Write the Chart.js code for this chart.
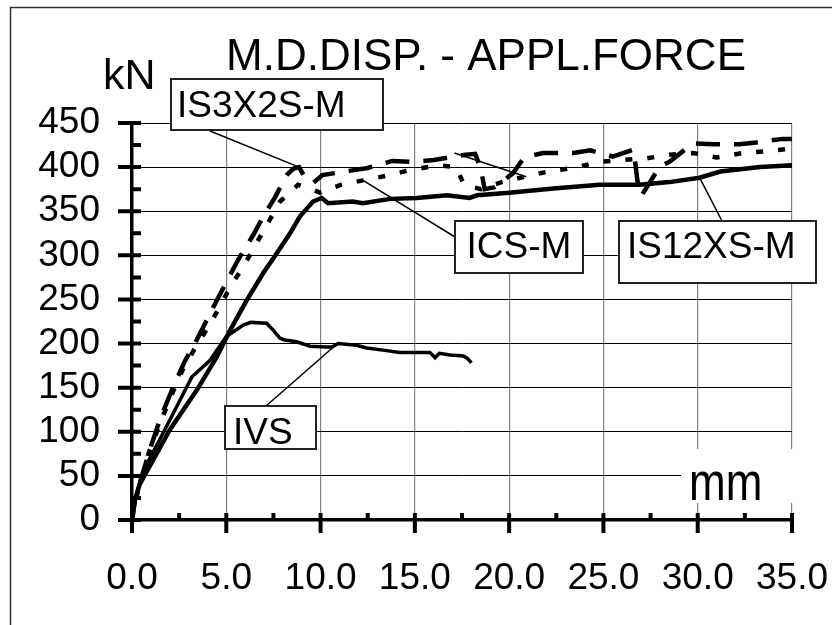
<!DOCTYPE html>
<html>
<head>
<meta charset="utf-8">
<script src="https://cdn.jsdelivr.net/npm/chart.js@4"></script>
<style>
  html, body { margin: 0; padding: 0; background: #fff; }
  #chart { display: block; }
</style>
</head>
<body>
<canvas id="chart" width="832" height="625"></canvas>
<script>
'use strict';

// curve data: displacement (mm) and applied force (kN)
const ivsX = [0, 0.15, 0.4, 0.65, 1.2, 2.19, 3.17, 4.14, 5.0, 5.9, 6.3, 7.14, 7.5, 7.85, 8.1, 8.73, 9.44, 10.3, 10.6, 10.94, 11.9, 12.45, 13.5, 14.2, 14.9, 15.8, 16.07, 16.3, 16.86, 17.57, 17.8, 18.0];
const ivsY = [0, 22, 42, 58, 80, 121, 162, 181, 208, 221, 224, 223, 215, 206, 204, 202, 197, 196, 196, 200, 198, 195, 192, 190, 190, 190, 184, 189, 187, 186, 183, 178];

const is12X = [0, 0.15, 0.4, 0.7, 1.3, 2.0, 2.7, 3.43, 4.5, 5.2, 6.08, 6.96, 7.67, 8.38, 8.9, 9.6, 10.06, 10.4, 11.7, 12.25, 13.7, 15.1, 16.7, 17.9, 18.3, 20.0, 22.5, 24.8, 26.9, 28.5, 30.1, 31.2, 33.3, 35];
const is12Y = [0, 22, 40, 52, 75, 102, 124, 147, 185, 215, 249, 280, 302, 325, 344, 361, 365, 359, 361, 359, 364, 365, 368, 365, 368, 371, 376, 380, 380, 383, 388, 395, 400, 402];

const icsX = [0, 0.15, 0.5, 0.87, 1.5, 2.1, 2.72, 3.43, 3.96, 4.67, 5.2, 5.9, 6.61, 7.14, 7.85, 8.4, 8.8, 9.4, 9.97, 11.1, 12.25, 13.7, 14.6, 16.2, 17.2, 17.6, 18.5, 19.6, 20.8, 22.3, 23.4, 24.8, 26, 27.3, 28.5, 29.75, 31, 32.4, 33.7, 35];
const icsY = [0, 20, 45, 75, 110, 142, 172, 198, 216, 242, 264, 287, 314, 334, 361, 372, 380, 376, 371, 380, 385, 391, 396, 402, 400, 380, 375, 383, 389, 396, 399, 406, 408, 410, 414, 416, 411, 416, 418, 421];

const is3X = [0, 0.15, 0.5, 0.95, 1.5, 2.19, 2.8, 3.43, 4.5, 5.63, 6.43, 6.96, 7.59, 8.2, 8.55, 8.86, 9.2, 9.6, 10.1, 11.6, 12.5, 13.8, 14.9, 16.0, 17.7, 18.2, 18.5, 18.7, 19.2, 20.2, 20.8, 21.8, 23.4, 24.3, 25.5, 26.6, 26.8, 27.0, 28.0, 28.5, 29.75, 30.8, 32.2, 33.1, 34.5, 35];
const is3Y = [0, 22, 48, 80, 115, 151, 180, 204, 249, 295, 323, 344, 366, 391, 398, 400, 387, 382, 391, 396, 399, 407, 406, 408, 414, 415, 398, 375, 377, 393, 411, 416, 416, 419, 412, 420, 385, 367, 401, 406, 427, 426, 426, 428, 432, 432];

// axis ranges and ticks
const xMin = 0, xMax = 35, xStep = 5;
const yMin = 0, yMax = 450, yStep = 50;

// callout labels: text and the curve point the leader goes to
const calloutNames = ['IS3X2S-M', 'ICS-M', 'IS12XS-M', 'IVS'];
const calloutX = [8.86, 12.25, 30.1, 10.9];
const calloutY = [400, 385, 388, 200];

const FONT = '"Liberation Sans", Arial, sans-serif';

function pts(xs, ys){
  return xs.map((x, i) => ({x: x, y: ys[i]}));
}

// box geometry for the callouts (pixels)
const boxes = [
  {l: 171, t: 79, r: 383, b: 130, tx: 177, ty: 117, align: 'left', from: [210, 131]},
  {l: 455, t: 221, r: 583, b: 273, tx: 519, ty: 258, align: 'center', from: [455, 237]},
  {l: 619, t: 221, r: 816, b: 283, tx: 627, ty: 258, align: 'left', from: [722, 221]},
  {l: 225, t: 406, r: 316, b: 449, tx: 233, ty: 444, align: 'left', from: [266, 406]}
];

const decor = {
  id: 'decor',
  beforeDraw(chart){
    const ctx = chart.ctx;
    ctx.save();
    ctx.fillStyle = '#fff';
    ctx.fillRect(0, 0, chart.width, chart.height);
    ctx.strokeStyle = '#333';
    ctx.lineWidth = 1.5;
    ctx.strokeRect(10.5, 7.5, 1000, 1000);
    ctx.restore();
  },
  beforeDatasetsDraw(chart){
    const ctx = chart.ctx;
    const xs = chart.scales.x, ys = chart.scales.y;
    const x0 = xs.getPixelForValue(0), y0 = ys.getPixelForValue(0);
    ctx.save();
    // white patch behind the "mm" unit
    ctx.fillStyle = '#fff';
    ctx.fillRect(681, 449, 120, 54);
    ctx.fillStyle = '#000';
    ctx.font = '44px ' + FONT;
    ctx.textAlign = 'left';
    ctx.textBaseline = 'alphabetic';
    ctx.translate(689, 500);
    ctx.scale(1, 1.2);
    ctx.fillText('mm', 0, 0);
    ctx.restore();

    ctx.save();
    ctx.strokeStyle = '#000';
    ctx.lineWidth = 4;
    ctx.beginPath();
    for (let v = xMin; v <= xMax + 0.01; v += xStep / 2){
      const px = xs.getPixelForValue(v);
      const major = Math.abs(v % xStep) < 0.01;
      ctx.moveTo(px, y0 - 7);
      ctx.lineTo(px, major ? y0 + 13 : y0);
    }
    for (let v = yMin; v <= yMax + 0.01; v += yStep / 2){
      const py = ys.getPixelForValue(v);
      const major = Math.abs(v % yStep) < 0.01;
      ctx.moveTo(major ? x0 - 14 : x0, py);
      ctx.lineTo(x0 + 9, py);
    }
    ctx.stroke();
    ctx.restore();
  },
  afterDatasetsDraw(chart){
    const ctx = chart.ctx;
    const xs = chart.scales.x, ys = chart.scales.y;
    ctx.save();
    // stray thin trace segment near 17-21 mm
    ctx.strokeStyle = '#000';
    ctx.lineWidth = 1.5;
    ctx.beginPath();
    ctx.moveTo(xs.getPixelForValue(17.1), ys.getPixelForValue(416));
    ctx.lineTo(xs.getPixelForValue(20.9), ys.getPixelForValue(389));
    ctx.stroke();

    boxes.forEach((b, i) => {
      ctx.beginPath();
      ctx.moveTo(b.from[0], b.from[1]);
      ctx.lineTo(xs.getPixelForValue(calloutX[i]), ys.getPixelForValue(calloutY[i]));
      ctx.stroke();
      ctx.fillStyle = '#fff';
      ctx.fillRect(b.l, b.t, b.r - b.l, b.b - b.t);
      ctx.lineWidth = 2;
      ctx.strokeStyle = '#222';
      ctx.strokeRect(b.l, b.t, b.r - b.l, b.b - b.t);
      ctx.fillStyle = '#000';
      ctx.font = '37px ' + FONT;
      ctx.textAlign = b.align;
      ctx.textBaseline = 'alphabetic';
      ctx.fillText(calloutNames[i], b.tx, b.ty);
      ctx.lineWidth = 1.5;
      ctx.strokeStyle = '#000';
    });

    ctx.fillStyle = '#000';
    ctx.textBaseline = 'alphabetic';
    ctx.font = '44px ' + FONT;
    ctx.textAlign = 'center';
    ctx.fillText('M.D.DISP. - APPL.FORCE', 486, 70);
    ctx.font = '43px ' + FONT;
    ctx.textAlign = 'left';
    ctx.fillText('kN', 103, 89);
    ctx.restore();
  }
};

new Chart(document.getElementById('chart'), {
  type: 'scatter',
  data: {
    datasets: [
      {label: 'IS3X2S-M', data: pts(is3X, is3Y), showLine: true, borderColor: '#000', borderWidth: 4.5, borderDash: [24, 14], pointRadius: 0, tension: 0},
      {label: 'ICS-M', data: pts(icsX, icsY), showLine: true, borderColor: '#000', borderWidth: 4.5, borderDash: [7, 15], pointRadius: 0, tension: 0},
      {label: 'IS12XS-M', data: pts(is12X, is12Y), showLine: true, borderColor: '#000', borderWidth: 4.5, pointRadius: 0, tension: 0},
      {label: 'IVS', data: pts(ivsX, ivsY), showLine: true, borderColor: '#000', borderWidth: 3.5, pointRadius: 0, tension: 0}
    ]
  },
  options: {
    responsive: false,
    animation: false,
    devicePixelRatio: 1,
    layout: { padding: {left: 0, top: 123, right: 40, bottom: 0} },
    plugins: {
      legend: { display: false },
      tooltip: { enabled: false },
      title: { display: false }
    },
    scales: {
      x: {
        type: 'linear',
        min: xMin, max: xMax,
        ticks: {
          stepSize: xStep,
          autoSkip: false,
          maxRotation: 0,
          padding: 37,
          color: '#000',
          font: {family: FONT, size: 37},
          callback: v => v.toFixed(1)
        },
        grid: { color: '#808080', lineWidth: 1.2, drawTicks: false },
        border: { color: '#000', width: 3.5 },
        afterFit: s => { s.height = 105; s.paddingLeft = 0; s.paddingRight = 0; }
      },
      y: {
        min: yMin, max: yMax,
        ticks: {
          stepSize: yStep,
          autoSkip: false,
          padding: 32,
          color: '#000',
          font: {family: FONT, size: 37}
        },
        grid: { color: '#000', lineWidth: 1, drawTicks: false },
        border: { color: '#000', width: 3.5 },
        afterFit: s => { s.width = 132; s.paddingTop = 0; s.paddingBottom = 0; }
      }
    }
  },
  plugins: [decor]
});
</script>
</body>
</html>
